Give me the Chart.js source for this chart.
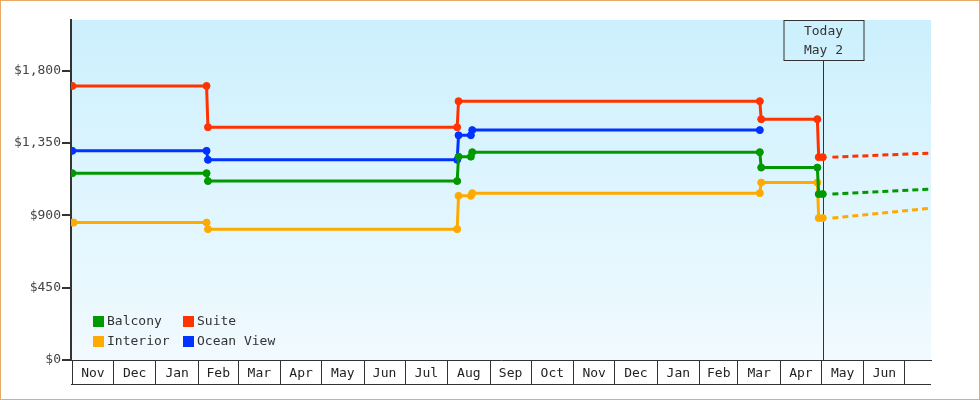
<!DOCTYPE html>
<html><head><meta charset="utf-8">
<script src="https://cdn.jsdelivr.net/npm/chart.js@4.4.0/dist/chart.umd.min.js"></script>
<style>html,body{margin:0;padding:0;background:#fff;}#wrap{width:980px;height:400px;position:relative;}</style>
</head><body><div id="wrap"><canvas id="c" width="980" height="400"></canvas></div>
<script>
// ---------- DATA ----------
const originDate = '2011-11-01';
const xRange = ['2011-10-31', '2013-07-20'];
const monthStarts = ['2011-11-01','2011-12-01','2012-01-01','2012-02-01','2012-03-01','2012-04-01','2012-05-01','2012-06-01','2012-07-01','2012-08-01','2012-09-01','2012-10-01','2012-11-01','2012-12-01','2013-01-01','2013-02-01','2013-03-01','2013-04-01','2013-05-01','2013-06-01','2013-07-01'];
const monthLabels = ['Nov','Dec','Jan','Feb','Mar','Apr','May','Jun','Jul','Aug','Sep','Oct','Nov','Dec','Jan','Feb','Mar','Apr','May','Jun'];
const yTickValues = [0, 450, 900, 1350, 1800];
const yMax = 2115;

const seriesNames = ['Balcony', 'Suite', 'Interior', 'Ocean View'];
const seriesColors = ['#009900', '#ff3300', '#ffaa00', '#0033ff'];

const balconyDates  = ['2011-11-01','2012-02-07','2012-02-08','2012-08-08','2012-08-09','2012-08-18','2012-08-19','2013-03-17','2013-03-18','2013-04-28','2013-04-29','2013-05-02'];
const balconyPrices = [1162, 1162, 1113, 1113, 1265, 1265, 1293, 1293, 1197, 1197, 1032, 1032];

const suiteDates  = ['2011-11-01','2012-02-07','2012-02-08','2012-08-08','2012-08-09','2013-03-17','2013-03-18','2013-04-28','2013-04-29','2013-05-02'];
const suitePrices = [1705, 1705, 1448, 1448, 1610, 1610, 1498, 1498, 1262, 1262];

const interiorDates  = ['2011-11-01','2011-11-02','2012-02-07','2012-02-08','2012-08-08','2012-08-09','2012-08-18','2012-08-19','2013-03-17','2013-03-18','2013-04-28','2013-04-29','2013-05-02'];
const interiorPrices = [855, 855, 855, 814, 814, 1021, 1021, 1038, 1038, 1104, 1104, 883, 883];

const oceanDates  = ['2011-11-01','2012-02-07','2012-02-08','2012-08-08','2012-08-09','2012-08-18','2012-08-19','2013-03-17'];
const oceanPrices = [1301, 1301, 1245, 1245, 1398, 1398, 1430, 1430];

const projectionDates = ['2013-05-09', '2013-07-20'];
const balconyProjection  = [1032, 1063];
const suiteProjection    = [1262, 1287];
const interiorProjection = [883, 945];

const todayDate = '2013-05-02';
const todayText = ['Today', 'May 2'];

// ---------- HELPERS ----------
const FONT = 'DejaVu Sans Mono';
function dayOf(s) {
  const p = s.split('-').map(Number), o = originDate.split('-').map(Number);
  return Math.round((Date.UTC(p[0], p[1]-1, p[2]) - Date.UTC(o[0], o[1]-1, o[2])) / 86400000);
}
function pts(dates, vals) { return dates.map((d, i) => ({x: dayOf(d), y: vals[i]})); }

const xTickList = [];
monthStarts.forEach((m, i) => {
  xTickList.push({value: dayOf(m), label: '', boundary: true});
  if (monthLabels[i] && monthStarts[i+1]) {
    xTickList.push({value: (dayOf(m) + dayOf(monthStarts[i+1])) / 2, label: monthLabels[i], boundary: false});
  }
});
xTickList.sort((a, b) => a.value - b.value);

function lineDs(label, color, data) {
  return {label, data, borderColor: color, backgroundColor: color, borderWidth: 3,
    pointRadius: 3.5, pointBorderWidth: 1, pointBorderColor: color, pointBackgroundColor: color,
    pointHoverRadius: 3.5, tension: 0, fill: false, legendItem: true};
}
function projDs(label, color, data) {
  return {label, data, borderColor: color, backgroundColor: color, borderWidth: 3,
    borderDash: [6, 4], pointRadius: 0, pointHoverRadius: 0, tension: 0, fill: false, legendItem: false};
}

const datasets = [
  lineDs(seriesNames[0], seriesColors[0], pts(balconyDates, balconyPrices)),
  lineDs(seriesNames[1], seriesColors[1], pts(suiteDates, suitePrices)),
  lineDs(seriesNames[2], seriesColors[2], pts(interiorDates, interiorPrices)),
  lineDs(seriesNames[3], seriesColors[3], pts(oceanDates, oceanPrices)),
  projDs(seriesNames[0] + ' forecast', seriesColors[0], pts(projectionDates, balconyProjection)),
  projDs(seriesNames[1] + ' forecast', seriesColors[1], pts(projectionDates, suiteProjection)),
  projDs(seriesNames[2] + ' forecast', seriesColors[2], pts(projectionDates, interiorProjection))
];

// ---------- PLUGINS ----------
const decor = {
  id: 'decor',
  beforeDraw(chart) {
    const {ctx, chartArea: a} = chart;
    const g = ctx.createLinearGradient(0, a.top, 0, a.bottom);
    g.addColorStop(0, '#ccf0fd');
    g.addColorStop(1, '#f1faff');
    ctx.save();
    ctx.fillStyle = g;
    ctx.fillRect(a.left, a.top, a.right - a.left, a.bottom - a.top);
    ctx.restore();
  },
  beforeDatasetsDraw(chart) {
    const {ctx, chartArea: a, scales} = chart;
    const x = Math.round(scales.x.getPixelForValue(dayOf(todayDate))) + 0.5;
    const bw = 80, bh = 40;
    ctx.save();
    ctx.strokeStyle = '#333';
    ctx.lineWidth = 1;
    ctx.beginPath();
    ctx.moveTo(x, a.top + bh);
    ctx.lineTo(x, a.bottom);
    ctx.stroke();
    ctx.strokeRect(Math.round(x - bw / 2), a.top + 0.5, bw, bh);
    ctx.fillStyle = '#333';
    ctx.font = '13px "' + FONT + '"';
    ctx.textAlign = 'center';
    ctx.textBaseline = 'middle';
    todayText.forEach((t, i) => ctx.fillText(t, x, a.top + 12 + i * 19));
    ctx.restore();
  },
  afterDraw(chart) {
    const {ctx, chartArea: a, scales} = chart;
    ctx.save();
    // bottom line of the month cells
    ctx.strokeStyle = '#333';
    ctx.lineWidth = 1;
    ctx.beginPath();
    ctx.moveTo(a.left, Math.round(scales.x.bottom) - 0.5);
    ctx.lineTo(a.right, Math.round(scales.x.bottom) - 0.5);
    ctx.stroke();
    // legend
    ctx.font = '13px "' + FONT + '"';
    ctx.textBaseline = 'middle';
    ctx.textAlign = 'left';
    const items = chart.data.datasets.filter(d => d.legendItem);
    items.forEach((d, i) => {
      const col = i % 2, row = Math.floor(i / 2);
      const x = a.left + 22 + col * 90, y = a.bottom - 44 + row * 20;
      ctx.fillStyle = d.borderColor;
      ctx.fillRect(x, y, 11, 11);
      ctx.fillStyle = '#333';
      ctx.fillText(d.label, x + 14, y + 6);
    });
    // outer frame
    ctx.strokeStyle = '#e8aa66';
    ctx.lineWidth = 1;
    ctx.strokeRect(0.5, 0.5, chart.width - 1, chart.height - 1);
    ctx.restore();
  }
};

Chart.defaults.font.family = FONT;
Chart.defaults.font.size = 13;
Chart.defaults.color = '#333';

new Chart(document.getElementById('c'), {
  type: 'line',
  data: {datasets},
  options: {
    responsive: false,
    animation: false,
    devicePixelRatio: 1,
    layout: {padding: {left: 0, top: 20, right: 49, bottom: 15}},
    plugins: {legend: {display: false}, tooltip: {enabled: false}},
    events: [],
    scales: {
      x: {
        type: 'linear',
        min: dayOf(xRange[0]),
        max: dayOf(xRange[1]),
        afterBuildTicks: s => { s.ticks = xTickList.map(t => ({value: t.value})); },
        afterFit: s => { s.height = 25; },
        grid: {drawOnChartArea: false, drawTicks: true, tickLength: 25, lineWidth: 1,
          color: c => (xTickList[c.index] && xTickList[c.index].boundary) ? '#333' : 'rgba(0,0,0,0)'},
        border: {display: true, color: '#333', width: 1},
        ticks: {autoSkip: false, maxRotation: 0, minRotation: 0, padding: -19, color: '#222',
          callback: (v, i) => (xTickList[i] ? xTickList[i].label : '')}
      },
      y: {
        min: 0,
        max: yMax,
        afterBuildTicks: s => { s.ticks = yTickValues.map(v => ({value: v})); },
        afterFit: s => { s.width = 71; },
        grid: {drawOnChartArea: false, drawTicks: true, tickLength: 9, color: '#333', lineWidth: 2},
        border: {display: true, color: '#333', width: 2},
        ticks: {padding: 1, color: '#444', callback: v => '$' + Number(v).toLocaleString('en-US')}
      }
    }
  },
  plugins: [decor]
});
</script>
</body></html>
